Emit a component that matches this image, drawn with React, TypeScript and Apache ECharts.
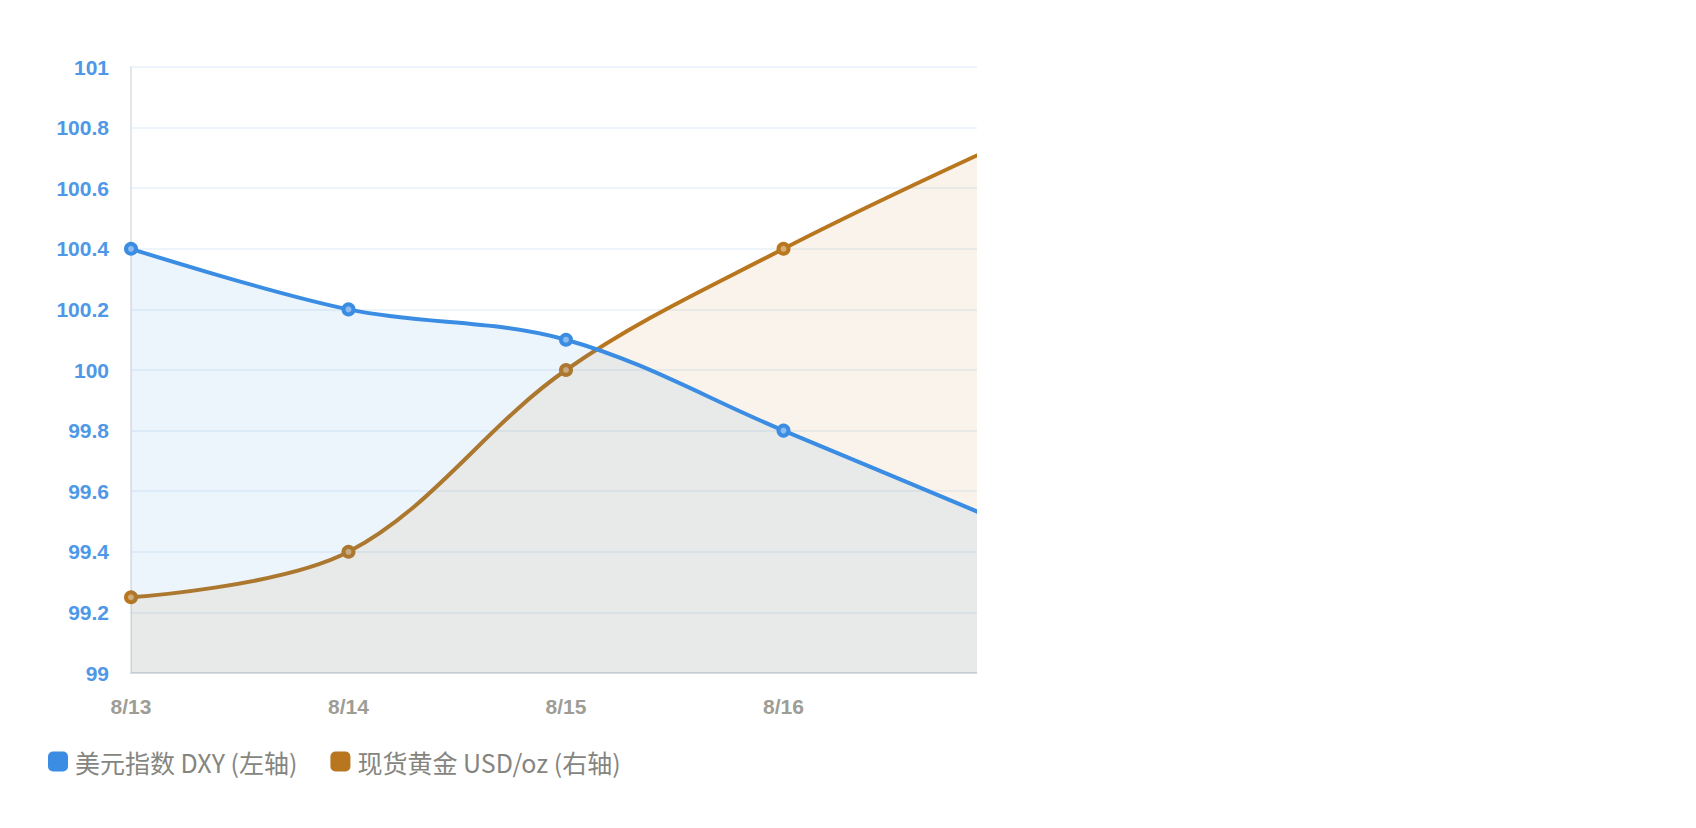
import React, { useEffect, useRef } from "react";
import * as echarts from "echarts";

const categories = ["8/13", "8/14", "8/15", "8/16", "8/17"];
const dxyValues = [100.4, 100.2, 100.1, 99.8, 99.5];
const goldValues = [99.25, 99.4, 100.0, 100.4, 100.745];
const seriesNames = ["美元指数 DXY (左轴)", "现货黄金 USD/oz (右轴)"];
const yMin = 99;
const yMax = 101;
const yInterval = 0.2;
const visibleCount = 4;

const BLUE = "#3a8de2";
const BLUE_FILL = "#8dbbee";
const GOLD = "#b8761e";
const GOLD_FILL = "#d6ad78";

export default function App() {
  const ref = useRef<HTMLDivElement>(null);
  useEffect(() => {
    if (!ref.current) return;
    const chart = echarts.init(ref.current, undefined, { renderer: "svg" });
    chart.setOption({
      animation: false,
      backgroundColor: "#ffffff",
      grid: { left: 131, top: 67, right: 99, bottom: 155, containLabel: false },
      legend: {
        left: 43,
        top: 744,
        itemWidth: 20,
        itemHeight: 20,
        itemGap: 33,
        icon: "roundRect",
        data: [
          { name: seriesNames[0], itemStyle: { color: BLUE, borderWidth: 0 } },
          { name: seriesNames[1], itemStyle: { color: GOLD, borderWidth: 0 } },
        ],
        textStyle: {
          color: "#85857f",
          fontSize: 25,
          fontFamily: "'Noto Sans CJK SC', 'Noto Sans', sans-serif",
          padding: [0, 0, 0, 2],
        },
      },
      xAxis: {
        type: "category",
        data: categories,
        boundaryGap: false,
        axisLine: { show: true, lineStyle: { color: "#d8dde3", width: 2 } },
        axisTick: { show: false },
        axisLabel: {
          color: "#9d9d96",
          fontSize: 21,
          fontWeight: "bold",
          fontFamily: "'Liberation Sans', Arial, sans-serif",
          margin: 23,
          interval: (i: number) => i < visibleCount,
        },
        splitLine: { show: false },
      },
      yAxis: [
        {
          type: "value",
          min: yMin,
          max: yMax,
          interval: yInterval,
          axisLine: { show: true, lineStyle: { color: "#e3e6ea", width: 2 } },
          axisTick: { show: false },
          axisLabel: {
            color: "#4e98e7",
            fontSize: 21,
            fontWeight: "bold",
            fontFamily: "'Liberation Sans', Arial, sans-serif",
            margin: 22,
          },
          splitLine: { show: true, lineStyle: { color: "#eef4fb", width: 2 } },
        },
        {
          type: "value",
          min: yMin,
          max: yMax,
          interval: yInterval,
          show: false,
          splitLine: { show: false },
        },
      ],
      series: [
        {
          name: seriesNames[0],
          type: "line",
          yAxisIndex: 0,
          data: dxyValues,
          smooth: 0.35,
          symbol: "circle",
          symbolSize: 10,
          lineStyle: { color: BLUE, width: 4 },
          itemStyle: { color: BLUE_FILL, borderColor: BLUE, borderWidth: 4 },
          areaStyle: { color: BLUE, opacity: 0.09 },
          z: 3,
        },
        {
          name: seriesNames[1],
          type: "line",
          yAxisIndex: 1,
          data: goldValues,
          smooth: 0.35,
          symbol: "circle",
          symbolSize: 10,
          lineStyle: { color: GOLD, width: 4 },
          itemStyle: { color: GOLD_FILL, borderColor: GOLD, borderWidth: 4 },
          areaStyle: { color: GOLD, opacity: 0.09 },
          z: 2,
        },
      ],
    });
    return () => chart.dispose();
  }, []);
  return (
    <div
      style={{
        position: "fixed",
        left: 0,
        top: 0,
        width: 1696,
        height: 828,
        background: "#ffffff",
        overflow: "hidden",
      }}
    >
      <div style={{ width: 977, height: 828, overflow: "hidden" }}>
        <div ref={ref} style={{ width: 1100, height: 828 }} />
      </div>
    </div>
  );
}
